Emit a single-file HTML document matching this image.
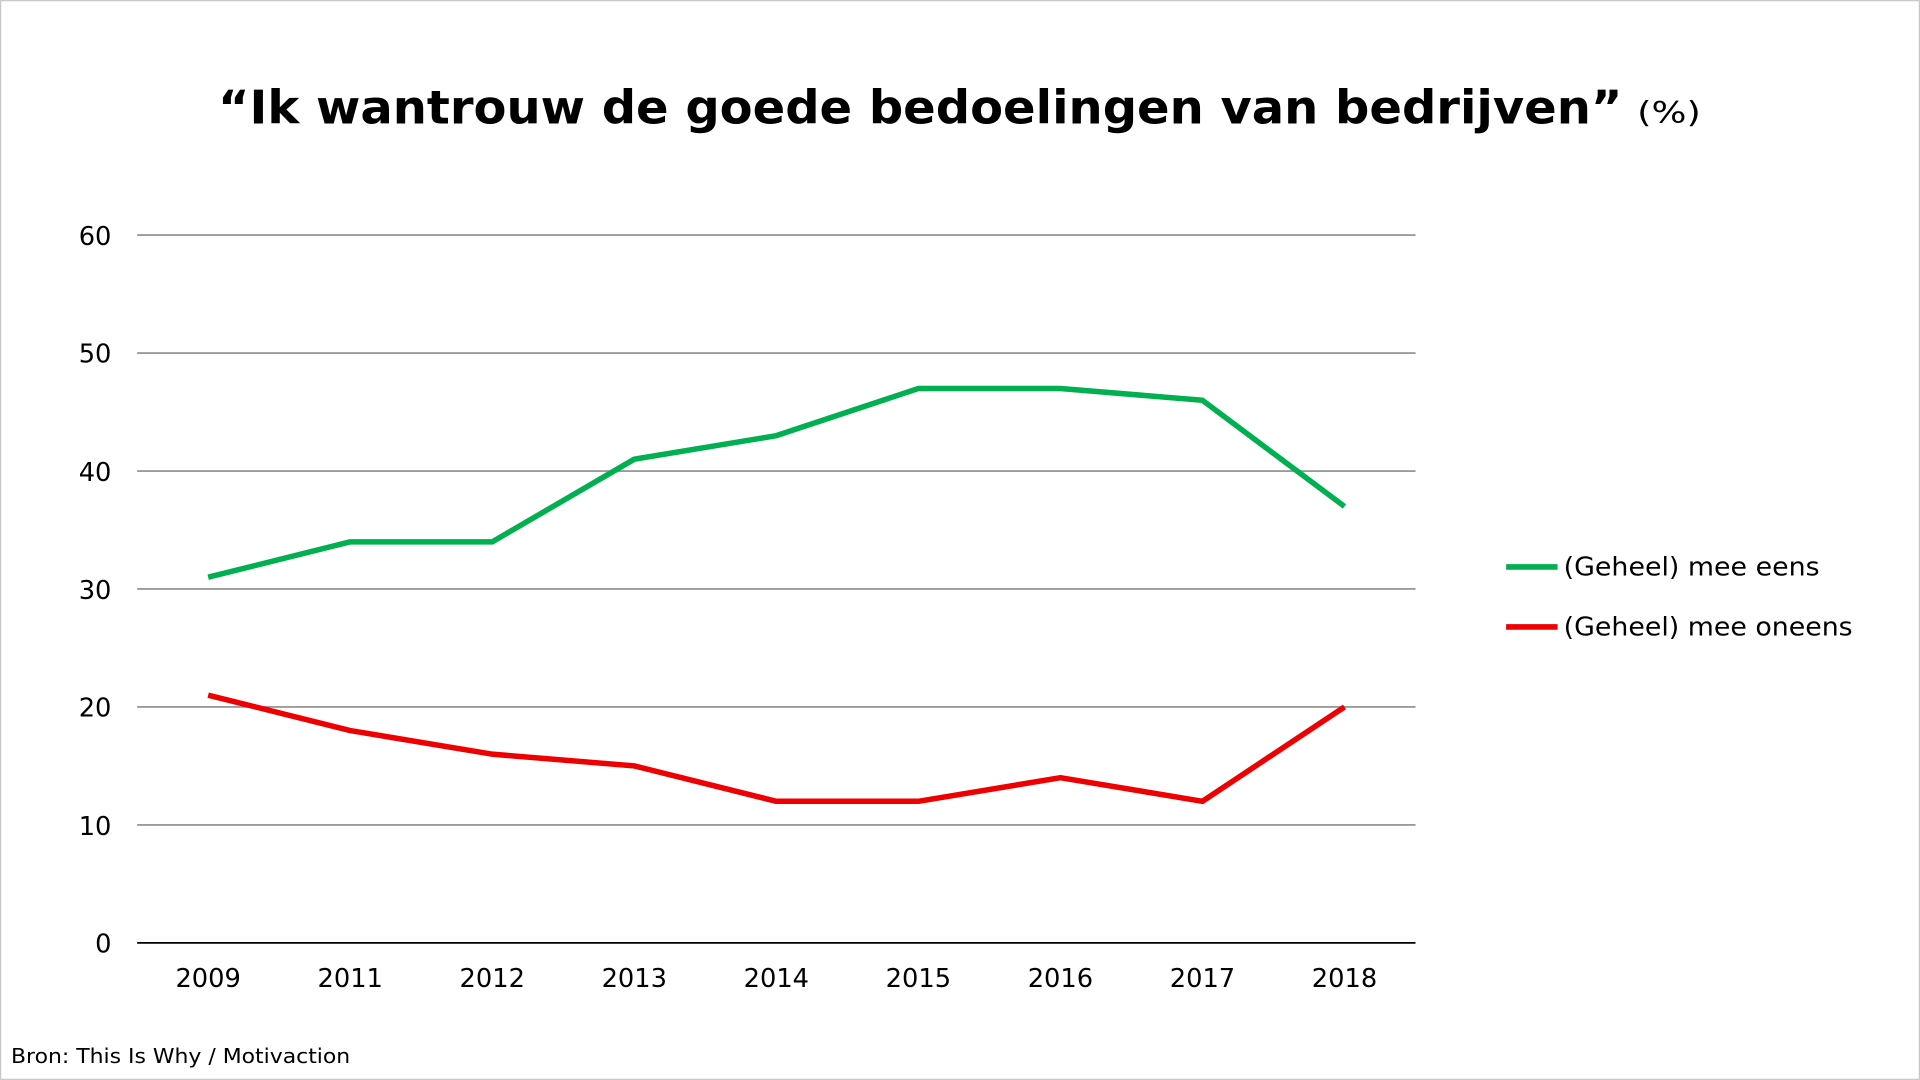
<!DOCTYPE html>
<html><head><meta charset="utf-8"><style>html,body{margin:0;padding:0;background:#fff;}svg{display:block}</style></head>
<body>
<svg width="1920" height="1080" viewBox="0 0 1568 882" xmlns="http://www.w3.org/2000/svg" font-family="'DejaVu Sans', 'Liberation Sans', sans-serif">
<rect x="0.5" y="0.5" width="1567" height="881" fill="#fff" stroke="#c8c8c8"/>
<text x="178" y="101" font-size="38" font-weight="bold" textLength="1147" lengthAdjust="spacingAndGlyphs">“Ik wantrouw de goede bedoelingen van bedrijven”</text>
<text x="1337" y="100" font-size="24" textLength="52" lengthAdjust="spacingAndGlyphs">(%)</text>
<g stroke="#8c8c8c" stroke-width="1.3">
<line x1="112" x2="1156" y1="192" y2="192"/>
<line x1="112" x2="1156" y1="288.3" y2="288.3"/>
<line x1="112" x2="1156" y1="384.7" y2="384.7"/>
<line x1="112" x2="1156" y1="481" y2="481"/>
<line x1="112" x2="1156" y1="577.3" y2="577.3"/>
<line x1="112" x2="1156" y1="673.7" y2="673.7"/>
</g>
<line x1="112" x2="1156" y1="770" y2="770" stroke="#000" stroke-width="1.5"/>
<g font-size="21" text-anchor="end" fill="#000">
<text x="91" y="200">60</text><text x="91" y="296">50</text><text x="91" y="393">40</text>
<text x="91" y="489">30</text><text x="91" y="585">20</text><text x="91" y="682">10</text><text x="91" y="778">0</text>
</g>
<g font-size="21" text-anchor="middle">
<text x="170" y="806">2009</text><text x="286" y="806">2011</text><text x="402" y="806">2012</text>
<text x="518" y="806">2013</text><text x="634" y="806">2014</text><text x="750" y="806">2015</text>
<text x="866" y="806">2016</text><text x="982" y="806">2017</text><text x="1098" y="806">2018</text>
</g>
<polyline fill="none" stroke="#00b050" stroke-width="4.5" stroke-linejoin="round" points="170,471.4 286,442.5 402,442.5 518,375 634,355.8 750,317.3 866,317.3 982,326.9 1098,413.6"/>
<polyline fill="none" stroke="#ee0000" stroke-width="4.5" stroke-linejoin="round" points="170,567.7 286,596.6 402,615.9 518,625.5 634,654.4 750,654.4 866,635.1 982,654.4 1098,577.3"/>
<line x1="1230" x2="1272" y1="463" y2="463" stroke="#00b050" stroke-width="4.5"/>
<line x1="1230" x2="1272" y1="512" y2="512" stroke="#ee0000" stroke-width="4.5"/>
<text x="1277" y="470" font-size="21" textLength="209" lengthAdjust="spacingAndGlyphs">(Geheel) mee eens</text>
<text x="1277" y="519" font-size="21" textLength="236" lengthAdjust="spacingAndGlyphs">(Geheel) mee oneens</text>
<text x="9" y="868" font-size="17" textLength="277" lengthAdjust="spacingAndGlyphs">Bron: This Is Why / Motivaction</text>
</svg>
</body></html>
